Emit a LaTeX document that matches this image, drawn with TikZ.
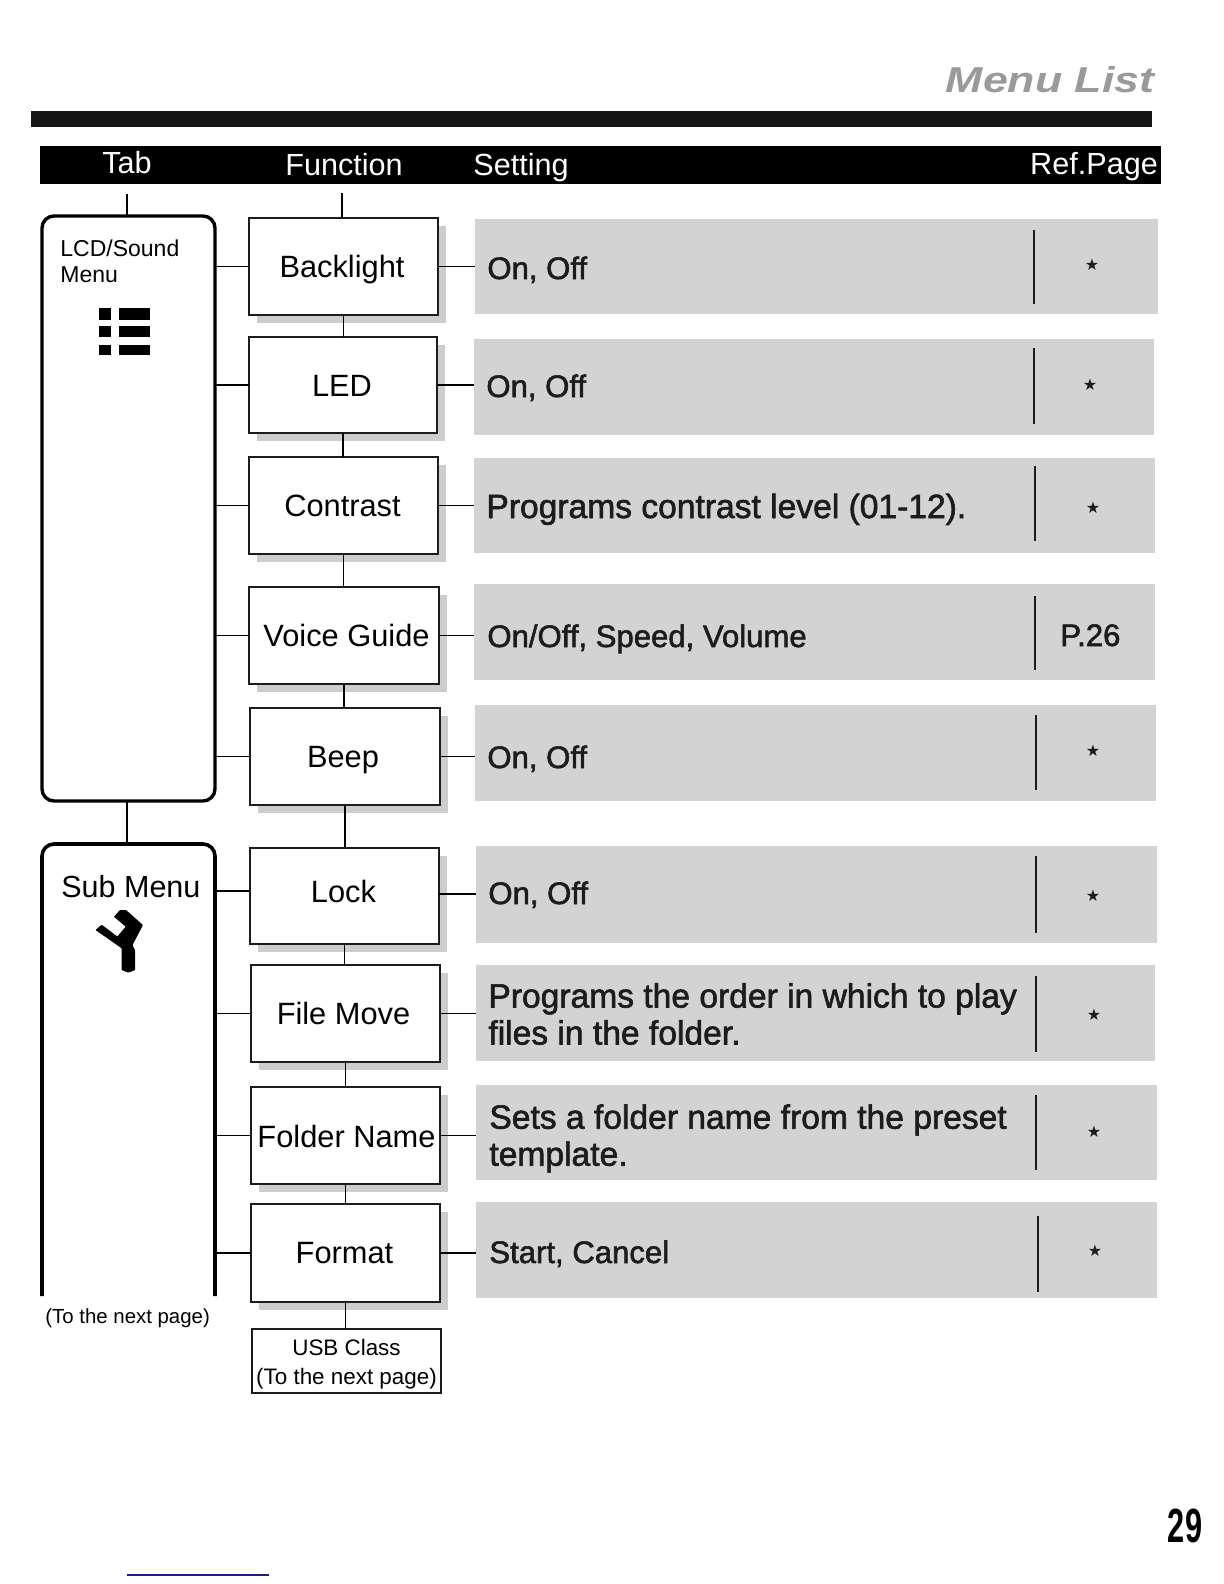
\documentclass[tikz,border=0pt]{standalone}
\usepackage{fontspec}
\setmainfont{Liberation Sans}
\newfontfamily\semifont[FakeBold=1.8]{Liberation Sans}
\newfontfamily\starfont{DejaVu Sans}
\usetikzlibrary{shadows,calc}
\definecolor{rowgray}{HTML}{D3D3D3}
\definecolor{inkdark}{HTML}{1C1C1C}
\definecolor{shadowgray}{HTML}{CDCDCD}
\definecolor{titlegray}{HTML}{9A9A9A}
\definecolor{barblack}{HTML}{151515}
\definecolor{linkblue}{HTML}{1A1A9A}
\newcommand{\rectnode}[7]{%
  \pgfmathsetmacro\rcx{(#2+#4)/2}\pgfmathsetmacro\rcy{(#3+#5)/2}%
  \pgfmathsetmacro\rw{(#4-#2)*0.5}\pgfmathsetmacro\rh{(#5-#3)*0.5}%
  \node[#6,minimum width=\rw pt,minimum height=\rh pt] (#1) at (\rcx,\rcy) {#7};}
% text centred at dx (px) from the box centre, baseline dy (px) below it
\newcommand{\fntext}[3]{\makebox[0pt][c]{\hspace*{#1pt}\raisebox{-#2\dimexpr0.5pt\relax}[0pt][0pt]{#3}}}
\tikzset{
  fnbox/.style={draw=inkdark,line width=1pt,fill=white,inner sep=0pt,outer sep=0pt,
    font=\fontsize{15.4}{18}\selectfont,
    drop shadow={shadow xshift=4pt,shadow yshift=-4pt,fill=shadowgray,opacity=1}},
  usbbox/.style={draw=inkdark,line width=0.7pt,fill=white,inner sep=0pt,outer sep=0pt,align=center,
    font=\fontsize{11.2}{14.4}\selectfont},
  rowbox/.style={fill=rowgray,inner sep=0pt,outer sep=0pt},
  tabbox/.style={draw=black,line width=1.7pt,rounded corners=6pt,inner sep=0pt,outer sep=0pt},
  openbox/.style={inner sep=0pt,outer sep=0pt},
  headtext/.style={text=white,anchor=base,inner sep=0pt,font=\fontsize{15.3}{18}\selectfont},
  rowtext/.style={text=inkdark,anchor=base west,inner sep=0pt,align=left,font=\semifont\fontsize{16.8}{18.5}\selectfont},
  rowshort/.style={rowtext,font=\semifont\fontsize{15.55}{18.5}\selectfont},
  small/.style={anchor=base west,inner sep=0pt,align=left},
  divider/.style={draw=inkdark,line width=1.1pt},
  link/.style={draw=black,line width=0.8pt},
  starmark/.style={text=inkdark,inner sep=0pt,font=\starfont\fontsize{8}{9}\selectfont},
}
\begin{document}
\begin{tikzpicture}[x=0.5pt,y=-0.5pt]
\useasboundingbox (0,0) rectangle (1224,1584);
% title and bars
\node[text=titlegray,anchor=base,inner sep=0pt,xscale=1.24,font=\bfseries\itshape\fontsize{18}{20}\selectfont] (title) at (1050,93) {Menu List};
\rectnode{topbar}{31}{111}{1152}{127}{fill=barblack,inner sep=0pt}{}
\rectnode{header}{40}{146}{1161}{184}{fill=black,inner sep=0pt}{}
\node[headtext] (htab) at (127,173) {Tab};
\node[headtext] (hfun) at (344,175) {Function};
\node[headtext] (hset) at (521,175) {Setting};
\node[headtext] (href) at (1094,174) {Ref.Page};
% setting rows
\rectnode{r1}{475}{219}{1158}{314}{rowbox}{}
\rectnode{r2}{474}{339}{1154}{435}{rowbox}{}
\rectnode{r3}{474}{458}{1155}{553}{rowbox}{}
\rectnode{r4}{474}{584}{1155}{680}{rowbox}{}
\rectnode{r5}{475}{705}{1156}{801}{rowbox}{}
\rectnode{r6}{476}{846}{1157}{943}{rowbox}{}
\rectnode{r7}{476}{965}{1155}{1061}{rowbox}{}
\rectnode{r8}{476}{1085}{1157}{1180}{rowbox}{}
\rectnode{r9}{476}{1202}{1157}{1298}{rowbox}{}
\node[rowshort] (t1) at (487,279) {On, Off};
\node[rowshort] (t2) at (486,397) {On, Off};
\node[rowtext] (t3) at (486,518) {Programs contrast level (01-12).};
\node[rowshort] (t4) at (487,647) {On/Off, Speed, Volume};
\node[rowshort] (t5) at (487,768) {On, Off};
\node[rowshort] (t6) at (488,904) {On, Off};
\node[rowtext,anchor=west] (t7) at (488,1014) {Programs the order in which to play\\files in the folder.};
\node[rowtext,anchor=west] (t8) at (489,1138.5) {Sets a folder name from the preset\\template.};
\node[rowshort] (t9) at (489,1263) {Start, Cancel};
% dividers and references
\foreach \nm/\dx/\da/\db in {a/1034/230/304,b/1034/348/424,c/1035/466/541,d/1035/596/670,e/1036/715/790,f/1036/856/933,g/1036/976/1052,h/1036/1095/1170,i/1038/1216/1292}{
  \coordinate (d\nm a) at (\dx,\da);
  \coordinate (d\nm b) at (\dx,\db);
  \draw[divider] (d\nm a) -- (d\nm b);
}
\node[starmark] (s1) at (1092,265) {★};
\node[starmark] (s2) at (1090,385) {★};
\node[starmark] (s3) at (1093,508) {★};
\node[rowshort] (p4) at (1060,646) {P.26};
\node[starmark] (s5) at (1093,751) {★};
\node[starmark] (s6) at (1093,896) {★};
\node[starmark] (s7) at (1094,1015) {★};
\node[starmark] (s8) at (1094,1132) {★};
\node[starmark] (s9) at (1095,1251) {★};
% tab column
\rectnode{lcd}{42}{216}{215}{801}{tabbox}{}
\node[small,font=\fontsize{11.5}{13}\selectfont] (lcdt) at (60,256) {LCD/Sound};
\node[small,font=\fontsize{11.5}{13}\selectfont] (lcdm) at (60,282) {Menu};
\foreach \ya/\yb [count=\i] in {308/320,326/337,345/355}{
  \fill[black] (99,\ya) rectangle (111,\yb);
  \fill[black] (119,\ya) rectangle (150,\yb);
}
\rectnode{sub}{42}{844}{215}{1296}{openbox}{}
\draw[black,line width=1.8pt,rounded corners=6pt] (sub.south west) -- (sub.north west) -- (sub.north east) -- (sub.south east);
\node[small,font=\fontsize{15.25}{18}\selectfont] (subt) at (61,897) {Sub Menu};
\node[small,font=\fontsize{10.2}{12}\selectfont] (next) at (45,1323) {(To the next page)};
% wrench icon
\fill[black,rounded corners=0.3pt] (95.5,930) -- (101.7,924.7) -- (117.3,936.5) -- (125.7,926.7) -- (114,916.7) -- (120,910) -- (126,910) -- (143,925) -- (132.5,945) -- (135,950) -- (135,970) -- (128.3,972.7) -- (121.7,970) -- (121.7,948.3) -- cycle;
% function column
\rectnode{backlight}{249}{218}{438}{315}{fnbox}{\fntext{-1.5}{10.5}{Backlight}}
\rectnode{led}{249}{337}{437}{433}{fnbox}{\fntext{-1}{11.5}{LED}}
\rectnode{contrast}{249}{457}{438}{554}{fnbox}{\fntext{-1}{10.5}{Contrast}}
\rectnode{voice}{249}{587}{439}{684}{fnbox}{\fntext{2.5}{10.5}{Voice Guide}}
\rectnode{beep}{250}{708}{440}{805}{fnbox}{\fntext{-2}{11}{Beep}}
\rectnode{lock}{250}{848}{439}{944}{fnbox}{\fntext{-1}{6.5}{Lock}}
\rectnode{filemove}{251}{965}{440}{1062}{fnbox}{\fntext{-2}{10.5}{File Move}}
\rectnode{folder}{251}{1087}{440}{1184}{fnbox}{\fntext{1}{11.5}{Folder Name}}
\rectnode{format}{251}{1204}{440}{1302}{fnbox}{\fntext{-1}{10}{Format}}
\rectnode{usb}{252}{1329}{441}{1393}{usbbox}{\rule{0pt}{11pt}USB Class\\(To the next page)}
% connectors
\coordinate (tabstub) at (127,194);
\coordinate (funstub) at (342,193);
\draw[link] (tabstub) -- (tabstub |- lcd.north);
\draw[link] (funstub) -- (funstub |- backlight.north);
\draw[link] (lcd.south -| tabstub) -- (sub.north -| tabstub);
\foreach \u/\v in {backlight/led,led/contrast,contrast/voice,voice/beep,beep/lock,lock/filemove,filemove/folder,folder/format,format/usb}{
  \draw[link] (\u.south) -- (\u.south |- \v.north);
}
\foreach \f/\r in {backlight/r1,led/r2,contrast/r3,voice/r4,beep/r5,filemove/r7,folder/r8,format/r9}{
  \draw[link] (\f.east) -- (\f.east -| \r.west);
}
\draw[link] ([yshift=1pt]lock.east) -- ([yshift=1pt]lock.east -| r6.west);
\foreach \f in {backlight,led,contrast,voice,beep}{
  \draw[link] (\f.west) -- (\f.west -| lcd.east);
}
\foreach \f in {filemove,folder,format}{
  \draw[link] (\f.west) -- (\f.west -| sub.east);
}
\draw[link] ([yshift=2.5pt]lock.west) -- ([yshift=2.5pt]lock.west -| sub.east);
% page number and rule
\node[anchor=base,inner sep=0pt,xscale=0.64,font=\bfseries\fontsize{24}{30}\selectfont] (pageno) at (1185,1542) {29};
\coordinate (rulea) at (127,1575);
\coordinate (ruleb) at (269,1575);
\draw[linkblue,line width=0.6pt] (rulea) -- (ruleb);
\end{tikzpicture}
\end{document}
